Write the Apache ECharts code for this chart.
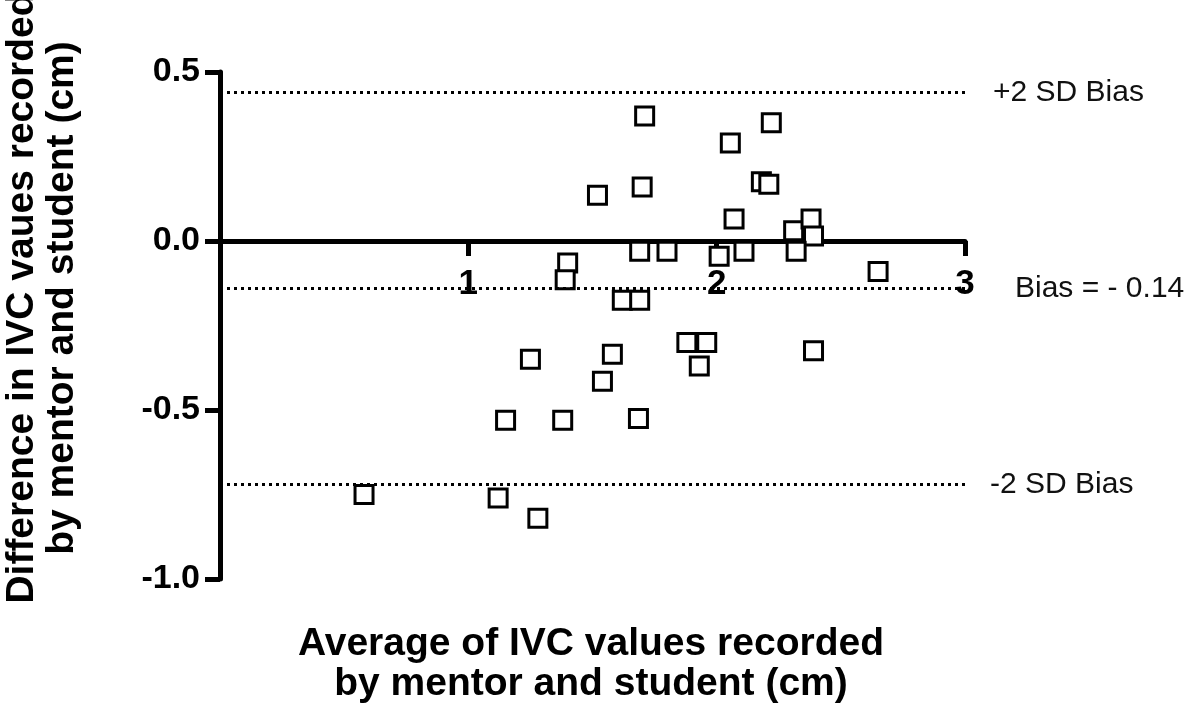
<!DOCTYPE html>
<html>
<head>
<meta charset="utf-8">
<script src="https://cdn.jsdelivr.net/npm/echarts@6/dist/echarts.min.js"></script>
<style>
  html, body { margin: 0; padding: 0; background: #fff; }
  #chart { width: 1200px; height: 720px; }
</style>
</head>
<body>
<div id="chart"></div>
<script>
// mean of the two readings (cm) and their difference (cm), one entry per patient
const avgValues = [
  0.58, 1.12, 1.28, 1.15, 1.25, 1.38, 1.40, 1.39, 1.52, 1.71, 1.70, 1.69,
  1.80, 1.62, 1.69, 1.88, 1.96, 1.93, 1.58, 1.54, 1.685, 2.22, 2.055, 2.18,
  2.21, 2.07, 2.31, 2.38, 2.39, 2.01, 2.11, 2.32, 2.65, 2.39
]
const diffValues = [
  -0.75, -0.76, -0.82, -0.53, -0.35, -0.53, -0.065, -0.115, 0.135, 0.37, 0.16, -0.03,
  -0.03, -0.175, -0.175, -0.30, -0.30, -0.37, -0.335, -0.415, -0.525, 0.35, 0.29, 0.175,
  0.168, 0.065, 0.03, 0.065, 0.015, -0.045, -0.03, -0.03, -0.09, -0.325
]

// Bland-Altman limits
const biasMean = -0.14
const upperLimit = 0.44
const lowerLimit = -0.72

const xTicks = [0, 1, 2, 3]
const yTicks = [-1.0, -0.5, 0.0, 0.5]

const yTitle = 'Difference in IVC vaues recorded\nby mentor and student (cm)'
const xTitle = 'Average of IVC values recorded\nby mentor and student (cm)'

const points = avgValues.map((x, i) => [x, diffValues[i]])

const chart = echarts.init(document.getElementById('chart'))
const fontFamily = '"Liberation Sans", Arial, Helvetica, sans-serif'

// grid box: top 72, bottom edge at 579 -> y = 0 sits at 72 + 507 / 3
const gridTop = 72
const gridBottom = 141
const plotHeight = 720 - gridTop - gridBottom
const zeroOffset = -(plotHeight * (0 - yTicks[0]) / (yTicks[yTicks.length - 1] - yTicks[0]))

chart.setOption({
  backgroundColor: '#fff',
  animation: false,
  grid: {
    left: 220,
    right: 235,
    top: gridTop,
    bottom: gridBottom
  },
  xAxis: {
    type: 'value',
    min: xTicks[0],
    max: xTicks[xTicks.length - 1],
    interval: 1,
    // move the whole axis (line, ticks, labels) up onto y = 0
    offset: zeroOffset,
    splitLine: { show: false },
    axisLine: { onZero: false, lineStyle: { color: '#000', width: 5 } },
    axisTick: { length: 15, lineStyle: { color: '#000', width: 5 } },
    axisLabel: {
      margin: 26,
      color: '#000',
      fontFamily,
      fontWeight: 'bold',
      fontSize: 35,
      formatter: (v) => (v === 0 ? '' : String(v))
    }
  },
  yAxis: {
    type: 'value',
    min: yTicks[0],
    max: yTicks[yTicks.length - 1],
    interval: 0.5,
    splitLine: { show: false },
    axisLine: { onZero: false, lineStyle: { color: '#000', width: 5 } },
    axisTick: { length: 15, lineStyle: { color: '#000', width: 5 } },
    axisLabel: {
      margin: 20,
      color: '#000',
      fontFamily,
      fontWeight: 'bold',
      fontSize: 34,
      formatter: (v) => v.toFixed(1)
    }
  },
  graphic: [
    {
      type: 'text',
      x: 42,
      y: 298,
      rotation: Math.PI / 2,
      style: {
        text: yTitle,
        fill: '#000',
        font: 'bold 39px ' + fontFamily,
        lineHeight: 40,
        align: 'center',
        verticalAlign: 'middle'
      }
    },
    {
      type: 'text',
      x: 591,
      y: 664,
      style: {
        text: xTitle,
        fill: '#000',
        font: 'bold 39px ' + fontFamily,
        lineHeight: 40,
        align: 'center',
        verticalAlign: 'middle'
      }
    }
  ],
  series: [
    {
      type: 'scatter',
      data: points,
      symbol: 'rect',
      symbolSize: 18,
      itemStyle: {
        color: '#fff',
        borderColor: '#000',
        borderWidth: 3,
        opacity: 1
      },
      markLine: {
        silent: true,
        symbol: 'none',
        lineStyle: { color: '#000', width: 3, type: [3, 4] },
        label: {
          position: 'end',
          color: '#111',
          fontFamily,
          fontSize: 30
        },
        data: [
          { yAxis: upperLimit, label: { formatter: '+2 SD Bias', distance: 28 } },
          { yAxis: biasMean, label: { formatter: 'Bias = - 0.14', distance: 50 } },
          { yAxis: lowerLimit, label: { formatter: '-2 SD Bias', distance: 25 } }
        ]
      }
    }
  ]
})

window.addEventListener('resize', () => chart.resize())
</script>
</body>
</html>
